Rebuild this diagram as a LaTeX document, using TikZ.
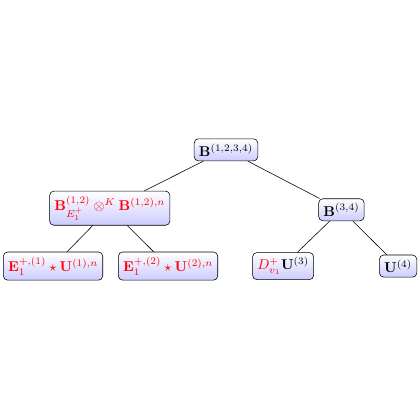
\documentclass[tikz,border=0pt]{standalone}
\usepackage{amsmath,amssymb}

\begin{document}
\begin{tikzpicture}
\def\bB{\mathbf{B}}
\def\bU{\mathbf{U}}
\def\bE{\mathbf{E}}
\tikzstyle{blk}=[draw,rounded corners=3pt,top color=white,bottom color=blue!20];
\tikzstyle{lnk}=[black,thin];

\useasboundingbox (0,0) rectangle (10.37,10.37);

\node [blk] (v1) at (5.58,6.67) {$\bB^{(1,2,3,4)}$};

\node [blk,text=red] (v2) at (2.71,5.23) {$\bB^{(1,2)}_{E_1^+}\otimes^K\bB^{(1,2),n}$};
\draw [lnk] (v1) -- (v2);
\node [blk] (v3) at (8.43,5.19) {$\bB^{(3,4)}$};
\draw [lnk] (v1) -- (v3);

\node [blk,text=red] (v4) at (1.31,3.80) {$\bE_1^{+,(1)}\star\bU^{(1),n}$};
\draw [lnk] (v2) -- (v4);
\node [blk,text=red] (v5) at (4.15,3.80) {$\bE_1^{+,(2)}\star\bU^{(2),n}$};
\draw [lnk] (v2) -- (v5);

\node [blk] (v6) at (6.99,3.80) {$\color{red}D_{v_1}^{+}\color{black}\bU^{(3)}$};
\draw [lnk] (v3) -- (v6);
\node [blk] (v7) at (9.83,3.80) {$\bU^{(4)}$};
\draw [lnk] (v3) -- (v7);
\end{tikzpicture}
\end{document}
